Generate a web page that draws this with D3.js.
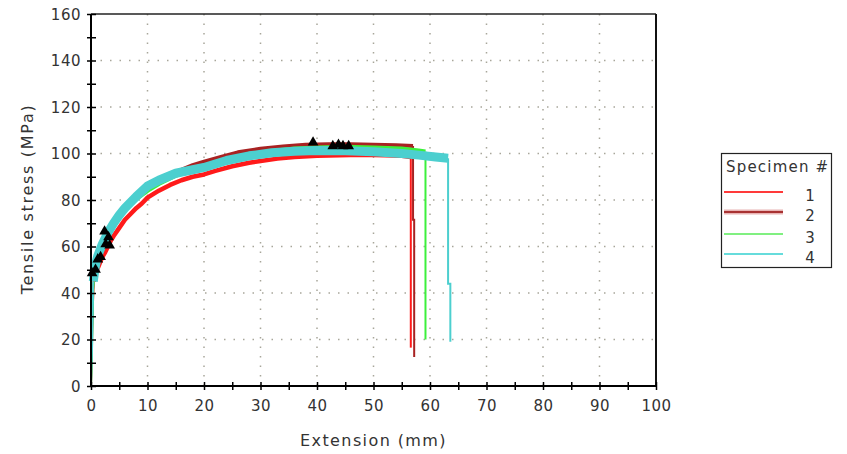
<!DOCTYPE html>
<html lang="en">
<head>
    <meta charset="UTF-8">
    <title>Tensile stress vs Extension</title>
    <style>
        body { margin: 0; background: #fff; }
        text { font-family: "DejaVu Sans", Verdana, sans-serif; fill: #333; }
        .tick text { font-size: 15px; letter-spacing: 0.5px; }
        .axis path { display: none; }
        .axis line { stroke: #000; stroke-width: 1.5; }
        .grid line { stroke: #a8a69a; stroke-width: 1.5; stroke-dasharray: 1.5,8; }
    </style>
</head>
<body>
    <svg id="chart" width="847" height="454"></svg>
    <script src="https://d3js.org/d3.v7.min.js"></script>
    <script>
        // stress-strain curves, [extension mm, stress MPa]
        var spec1 = [[0,0],[0.1,10],[0.2,22],[0.35,36],[0.5,45],[1,49.5],[1.5,52.5],[2,55.5],[2.5,57.5],[3,60],[3.5,62.5],[4,64.5],[5,68],[6,71.5],[7,74],[8,76.5],[9,78.5],[10,81],[12,84],[14,86.5],[16,88.5],[18,90],[20,91],[22,92.5],[25,94.5],[28,96],[30,96.8],[33,97.8],[36,98.5],[40,99],[44,99.3],[48,99.5],[52,99.3],[55,99],[56.6,98.5]];
        var spec2 = [[0,0],[0.1,15],[0.3,40],[0.6,48],[1,53],[1.5,56.5],[2,59.5],[3,64.5],[4,69],[5,72.5],[6,76],[8,81],[10,85.5],[12,88.5],[15,92],[18,95],[20,96.5],[23,98.5],[26,100.5],[30,102],[34,103],[38,103.8],[42,104],[46,104],[50,103.8],[54,103.5],[57,103.2]];
        var spec3 = [[0,0],[0.1,8],[0.2,20],[0.4,42],[0.7,50],[1,53],[1.5,57],[2,60],[3,65],[4,69],[5,72.5],[6,75.5],[8,80.5],[10,84],[12,87],[15,90.5],[18,93],[20,94.5],[24,97],[28,99.5],[32,101],[36,102],[40,102.5],[45,102.8],[50,102.5],[55,102],[58,101.2],[59.2,100.8]];
        var spec4 = [[0,0],[0.2,18],[0.4,45],[0.8,52],[1.2,56],[2,61],[3,66],[4,70],[5,73.5],[6,76.5],[8,81.5],[10,86],[12,88.5],[15,91.5],[18,93],[20,94],[24,97],[28,99],[32,100.3],[36,101],[40,101.3],[45,101.2],[50,100.8],[55,100],[58,99.3],[61,98.5],[63.2,98]];
        // fracture drops
        var drop1 = [[56.6,98.5],[56.6,16.5]];
        var drop2 = [[57,103.2],[57,71.5],[57.2,71.5],[57.2,12.5]];
        var drop3 = [[59.2,100.8],[59.2,20]];
        var drop4 = [[63.2,98],[63.2,44],[63.6,44],[63.6,19]];
        // black triangle markers
        var markers = [[0.2,48.5],[0.8,50],[1.2,54.5],[1.7,55.5],[2.4,66.5],[2.6,61],[3.1,64],[3.3,60.5],[39.3,104.8],[42.8,103.2],[43.8,103.8],[44.6,103.2],[45.6,103.2]];

        var specimens = ["1", "2", "3", "4"];
        var colors = ["#ff1a1a", "#a82222", "#3cf03c", "#4ccfcf"];
        var legendColors = ["#ff3a3a", "#a83232", "#80f080", "#66dcdc"];
        var curves = [spec1, spec2, spec3, spec4];
        var drops = [drop1, drop2, drop3, drop4];
        var bandWidth = [4.5, 4, 4.5, 9];

        var svg = d3.select("#chart");
        var x = d3.scaleLinear().domain([0, 100]).range([91, 656]);
        var y = d3.scaleLinear().domain([0, 160]).range([386, 14]);

        // dotted grid
        var grid = svg.append("g").attr("class", "grid");
        grid.selectAll(".vg").data(d3.range(10, 100, 10)).enter().append("line")
            .attr("x1", d => x(d)).attr("x2", d => x(d))
            .attr("y1", y(0)).attr("y2", y(160));
        grid.selectAll(".hg").data(d3.range(20, 160, 20)).enter().append("line")
            .attr("x1", x(0)).attr("x2", x(100))
            .attr("y1", d => y(d)).attr("y2", d => y(d));

        // frame top / right
        svg.append("line").attr("x1", x(0)).attr("x2", x(100)).attr("y1", y(160)).attr("y2", y(160))
            .attr("stroke", "#222").attr("stroke-width", 1.5);
        svg.append("line").attr("x1", x(100)).attr("x2", x(100)).attr("y1", y(160)).attr("y2", y(0))
            .attr("stroke", "#111").attr("stroke-width", 2);

        var line = d3.line().x(d => x(d[0])).y(d => y(d[1]));

        // curves: thin elastic rise + drop, thick noisy plastic band
        curves.forEach((c, i) => {
            svg.append("path").attr("d", line(c.filter(d => d[1] <= 50)))
               .attr("fill", "none").attr("stroke", colors[i]).attr("stroke-width", 2);
            svg.append("path").attr("d", line(drops[i]))
               .attr("fill", "none").attr("stroke", colors[i]).attr("stroke-width", 2);
        });
        curves.forEach((c, i) => {
            svg.append("path").attr("d", line(c.filter(d => d[1] >= 45)))
               .attr("fill", "none").attr("stroke", colors[i])
               .attr("stroke-width", bandWidth[i]).attr("stroke-linejoin", "round");
        });

        svg.selectAll(".mk").data(markers).enter().append("path")
            .attr("d", d3.symbol().type(d3.symbolTriangle).size(50))
            .attr("transform", d => "translate(" + x(d[0]) + "," + y(d[1]) + ")")
            .attr("fill", "#000");

        // axes
        var yAxis = d3.axisLeft(y).tickValues(d3.range(0, 161, 10))
            .tickSize(4).tickPadding(6)
            .tickFormat(d => d % 20 === 0 ? d : "");
        var gy = svg.append("g").attr("class", "axis").attr("transform", "translate(" + x(0) + ",0)").call(yAxis);
        gy.selectAll(".tick line").attr("x1", 5);
        gy.selectAll(".tick text").attr("dy", "0.36em");

        var xAxis = d3.axisBottom(x).tickValues(d3.range(0, 101, 5))
            .tickSize(4).tickPadding(10)
            .tickFormat(d => d % 10 === 0 ? d : "");
        var gx = svg.append("g").attr("class", "axis").attr("transform", "translate(0," + y(0) + ")").call(xAxis);
        gx.selectAll(".tick line").attr("y1", -4);

        svg.append("line").attr("x1", x(0)).attr("x2", x(0)).attr("y1", y(160)).attr("y2", y(0))
            .attr("stroke", "#000").attr("stroke-width", 2);
        svg.append("line").attr("x1", x(0)).attr("x2", x(100)).attr("y1", y(0)).attr("y2", y(0))
            .attr("stroke", "#000").attr("stroke-width", 2);

        // axis titles
        svg.append("text").attr("x", (x(0) + x(100)) / 2).attr("y", 446)
            .attr("text-anchor", "middle").style("font-size", "16px").style("letter-spacing", "1.4px")
            .text("Extension (mm)");
        svg.append("text").attr("transform", "translate(33,199) rotate(-90)")
            .attr("text-anchor", "middle").style("font-size", "16px").style("letter-spacing", "1.7px")
            .text("Tensile stress (MPa)");

        // legend
        var legend = svg.append("g");
        legend.append("rect").attr("x", 721.5).attr("y", 153.5).attr("width", 110).attr("height", 114)
            .attr("fill", "#fff").attr("stroke", "#222").attr("stroke-width", 1.2);
        legend.append("text").attr("x", 726).attr("y", 172).style("font-size", "15px").style("letter-spacing", "1.2px")
            .text("Specimen #");
        var rowY = [192, 212, 234, 254];
        specimens.forEach((s, i) => {
            if (i === 1) {
                legend.append("line").attr("x1", 724).attr("x2", 783).attr("y1", rowY[i]).attr("y2", rowY[i])
                    .attr("stroke", "#e8b4b4").attr("stroke-width", 5);
            }
            legend.append("line").attr("x1", 724).attr("x2", 783).attr("y1", rowY[i]).attr("y2", rowY[i])
                .attr("stroke", legendColors[i]).attr("stroke-width", 2);
            legend.append("text").attr("x", 810).attr("y", rowY[i] + 9).attr("text-anchor", "middle")
                .style("font-size", "15px").text(s);
        });
    </script>
</body>
</html>
